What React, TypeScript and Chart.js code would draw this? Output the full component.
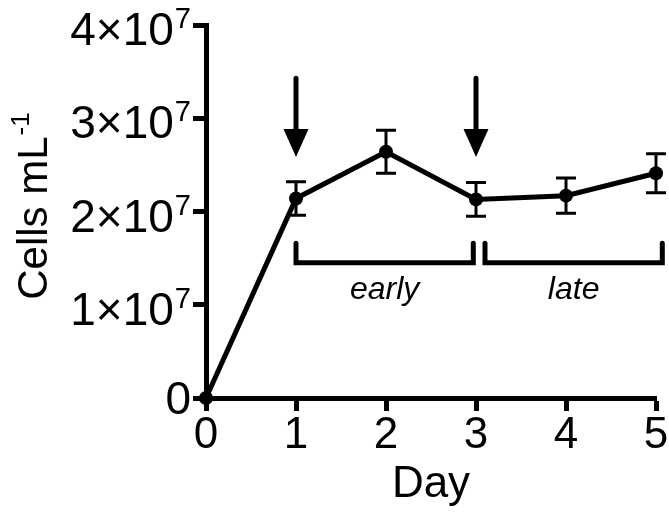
import React, { useEffect, useRef } from "react";
import { Chart, registerables } from "chart.js";

Chart.register(...registerables);

// ---- data ----
const days = [0, 1, 2, 3, 4, 5];
const cells = [0, 2.14e7, 2.64e7, 2.13e7, 2.17e7, 2.41e7];
const errors = [0, 0.18e7, 0.23e7, 0.18e7, 0.19e7, 0.21e7];
const yTickValues = [0, 1e7, 2e7, 3e7, 4e7];
const yTickMantissa = ["0", "1×10", "2×10", "3×10", "4×10"];
const yTickExponent = ["", "7", "7", "7", "7"];
const xTickValues = [0, 1, 2, 3, 4, 5];
const arrowDays = [1, 3];
const arrowLevels = [3.43e7, 2.885e7, 2.585e7]; // shaft top, head base, tip
const bracketStarts = [1, 3.1];
const bracketEnds = [2.97, 5.07];
const bracketLabels = ["early", "late"];
const bracketLevels = [1.66e7, 1.45e7, 1.16e7]; // end top, bar, label
const xTitle = "Day";
const yTitleMain = "Cells mL";
const yTitleSup = "-1";

const FONT = "'Liberation Sans', Arial, Helvetica, sans-serif";

const decorPlugin = {
  id: "decor",
  afterDatasetsDraw(chart: any) {
    const ctx = chart.ctx;
    const xs = chart.scales.x;
    const ys = chart.scales.y;
    ctx.save();
    ctx.strokeStyle = "#000";
    ctx.fillStyle = "#000";
    // error bars
    ctx.lineWidth = 3;
    for (let i = 0; i < days.length; i++) {
      if (!errors[i]) continue;
      const x = xs.getPixelForValue(days[i]);
      const yt = ys.getPixelForValue(cells[i] + errors[i]);
      const yb = ys.getPixelForValue(cells[i] - errors[i]);
      ctx.beginPath();
      ctx.moveTo(x, yt);
      ctx.lineTo(x, yb);
      ctx.moveTo(x - 10, yt);
      ctx.lineTo(x + 10, yt);
      ctx.moveTo(x - 10, yb);
      ctx.lineTo(x + 10, yb);
      ctx.stroke();
    }
    // arrows
    for (const d of arrowDays) {
      const x = xs.getPixelForValue(d);
      const yTop = ys.getPixelForValue(arrowLevels[0]);
      const yBase = ys.getPixelForValue(arrowLevels[1]);
      const yTip = ys.getPixelForValue(arrowLevels[2]);
      ctx.lineWidth = 5;
      ctx.lineCap = "round";
      ctx.beginPath();
      ctx.moveTo(x, yTop);
      ctx.lineTo(x, yBase + 2);
      ctx.stroke();
      ctx.beginPath();
      ctx.moveTo(x - 12.5, yBase);
      ctx.lineTo(x + 12.5, yBase);
      ctx.lineTo(x, yTip);
      ctx.closePath();
      ctx.fill();
    }
    // brackets
    ctx.lineWidth = 5;
    ctx.lineCap = "round";
    ctx.lineJoin = "miter";
    const yEnd = ys.getPixelForValue(bracketLevels[0]);
    const yBar = ys.getPixelForValue(bracketLevels[1]);
    const yLab = ys.getPixelForValue(bracketLevels[2]);
    for (let i = 0; i < bracketStarts.length; i++) {
      const x1 = xs.getPixelForValue(bracketStarts[i]);
      const x2 = xs.getPixelForValue(bracketEnds[i]);
      ctx.beginPath();
      ctx.moveTo(x1, yEnd);
      ctx.lineTo(x1, yBar);
      ctx.lineTo(x2, yBar);
      ctx.lineTo(x2, yEnd);
      ctx.stroke();
      ctx.font = `italic 32px ${FONT}`;
      ctx.textAlign = "center";
      ctx.textBaseline = "middle";
      ctx.fillText(bracketLabels[i], (x1 + x2) / 2, yLab);
    }
    ctx.restore();
  },
  afterDraw(chart: any) {
    const ctx = chart.ctx;
    const ys = chart.scales.y;
    ctx.save();
    ctx.fillStyle = "#000";
    // y tick labels with superscripts
    const right = ys.right - 15;
    for (let i = 0; i < yTickValues.length; i++) {
      const y = ys.getPixelForValue(yTickValues[i]);
      let x = right;
      ctx.textAlign = "right";
      ctx.textBaseline = "alphabetic";
      if (yTickExponent[i]) {
        ctx.font = `29px ${FONT}`;
        ctx.fillText(yTickExponent[i], x, y + 3);
        x -= ctx.measureText(yTickExponent[i]).width + 1;
        ctx.font = `46px ${FONT}`;
        ctx.fillText(yTickMantissa[i], x, y + 20);
      } else {
        ctx.font = `46px ${FONT}`;
        ctx.fillText(yTickMantissa[i], x, y + 16);
      }
    }
    // y title
    const ca = chart.chartArea;
    const cy = (ca.top + ca.bottom) / 2 - 5;
    ctx.translate(47, cy);
    ctx.rotate(-Math.PI / 2);
    ctx.font = `42px ${FONT}`;
    const w1 = ctx.measureText(yTitleMain).width;
    ctx.font = `26px ${FONT}`;
    const w2 = ctx.measureText(yTitleSup).width;
    const start = -(w1 + w2) / 2;
    ctx.textAlign = "left";
    ctx.textBaseline = "alphabetic";
    ctx.font = `42px ${FONT}`;
    ctx.fillText(yTitleMain, start, 0);
    ctx.font = `26px ${FONT}`;
    ctx.fillText(yTitleSup, start + w1 + 1, -18);
    ctx.restore();
  },
};

export default function App() {
  const ref = useRef<HTMLCanvasElement | null>(null);
  useEffect(() => {
    if (!ref.current) return;
    const chart = new Chart(ref.current, {
      type: "line",
      data: {
        datasets: [
          {
            data: days.map((d, i) => ({ x: d, y: cells[i] })),
            borderColor: "#000",
            backgroundColor: "#000",
            borderWidth: 5,
            pointRadius: 7,
            pointBackgroundColor: "#000",
            pointBorderWidth: 0,
            tension: 0,
            clip: false as any,
          },
        ],
      },
      options: {
        animation: false,
        responsive: false,
        maintainAspectRatio: false,
        layout: { padding: { top: 25, right: 13, left: 0, bottom: 0 } },
        plugins: { legend: { display: false }, tooltip: { enabled: false } },
        scales: {
          x: {
            type: "linear",
            min: 0,
            max: 5,
            afterBuildTicks: (s: any) => {
              s.ticks = xTickValues.map((v) => ({ value: v }));
            },
            afterFit: (s: any) => {
              s.height = 114;
              s.paddingLeft = 0;
              s.paddingRight = 0;
            },
            border: { display: true, color: "#000", width: 5 },
            grid: {
              drawOnChartArea: false,
              drawTicks: true,
              tickLength: 13,
              tickWidth: 5,
              color: "#000",
            },
            ticks: {
              color: "#000",
              padding: 3,
              font: { family: FONT, size: 44, lineHeight: 1 },
              maxRotation: 0,
              autoSkip: false,
            },
            title: {
              display: true,
              text: xTitle,
              color: "#000",
              font: { family: FONT, size: 44, lineHeight: 1 },
              padding: { top: 0, bottom: 5 },
            },
          },
          y: {
            type: "linear",
            min: 0,
            max: 4e7,
            afterBuildTicks: (s: any) => {
              s.ticks = yTickValues.map((v) => ({ value: v }));
            },
            afterFit: (s: any) => {
              s.width = 206;
              s.paddingTop = 0;
              s.paddingBottom = 0;
            },
            border: { display: true, color: "#000", width: 5 },
            grid: {
              drawOnChartArea: false,
              drawTicks: true,
              tickLength: 13,
              tickWidth: 5,
              color: "#000",
            },
            ticks: { display: false },
          },
        },
      },
      plugins: [decorPlugin],
    });
    return () => chart.destroy();
  }, []);
  return (
    <div style={{ position: "fixed", left: 0, top: 0, width: 669, height: 512, background: "#fff" }}>
      <canvas ref={ref} width={669} height={512} style={{ display: "block", width: 669, height: 512 }} />
    </div>
  );
}
